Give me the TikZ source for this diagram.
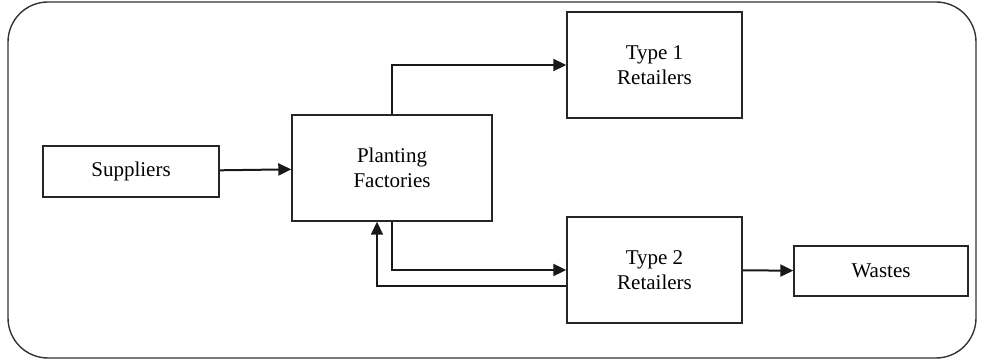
\documentclass[tikz,border=0pt]{standalone}
\usepackage{fontspec}
\setmainfont{Liberation Serif}
\usetikzlibrary{arrows.meta}
\tikzset{
	blockbox/.style={draw=black!85, line width=0.7pt, rectangle, align=center, inner sep=0pt, font=\fontsize{10.5}{12.5}\selectfont},
	flow/.style={draw=black!90, line width=1pt, -{Triangle[length=6.5pt, width=6pt]}}
}
\begin{document}
\begin{tikzpicture}[x=0.5pt, y=-0.5pt]
		\useasboundingbox (0,0) rectangle (984,362);
		\draw[black!80, line width=0.7pt, rounded corners=20pt] (8,2) rectangle (976,358);
		
		\node[blockbox, minimum width=88pt, minimum height=25.5pt] (sup) at (131,171.5) {Suppliers};
		\node[blockbox, minimum width=100pt, minimum height=53pt] (pf) at (392,168) {Planting\\Factories};
		\node[blockbox, minimum width=87.5pt, minimum height=53pt] (r1) at (654.5,65) {Type 1\\Retailers};
		\node[blockbox, minimum width=87.5pt, minimum height=53pt] (r2) at (654.5,270) {Type 2\\Retailers};
		\node[blockbox, minimum width=87pt, minimum height=25pt] (w) at (881,271) {Wastes};
		
		\draw[flow] (sup) -- (pf);
		\draw[flow] (pf.north) |- (r1.west);
		\draw[flow] (pf.south) |- (r2.west);
		\draw[flow, line width=0.8pt] ([yshift=-8pt]r2.west) -| ([xshift=-7.5pt]pf.south);
		\draw[flow] (r2) -- (w);
		
	\end{tikzpicture}
\end{document}
